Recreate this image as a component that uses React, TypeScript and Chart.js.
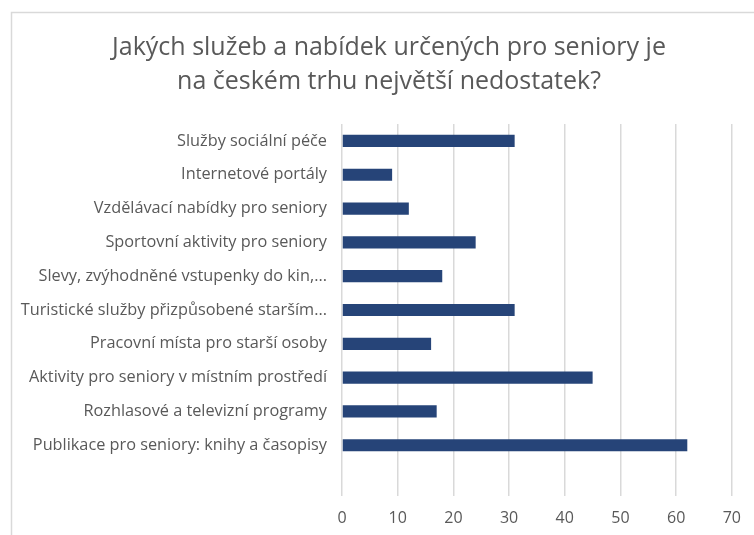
import { useEffect, useRef } from "react";
import { Chart, registerables } from "chart.js";

Chart.register(...registerables);

const titleLines = [
  "Jakých služeb a nabídek určených pro seniory je",
  "na českém trhu největší nedostatek?",
];

const categories = [
  "Služby sociální péče",
  "Internetové portály",
  "Vzdělávací nabídky pro seniory",
  "Sportovní aktivity pro seniory",
  "Slevy, zvýhodněné vstupenky do kin,...",
  "Turistické služby přizpůsobené starším...",
  "Pracovní místa pro starší osoby",
  "Aktivity pro seniory v místním prostředí",
  "Rozhlasové a televizní programy",
  "Publikace pro seniory: knihy a časopisy",
  "",
];

const values: (number | null)[] = [31, 9, 12, 24, 18, 31, 16, 45, 17, 62, null];

const xMin = 0;
const xMax = 70;
const xStep = 10;

const FONT = "'Open Sans', Lato, sans-serif";
const TEXT = "#595959";
const GRID = "#d9d9d9";
const BAR = "#264478";

const framePlugin = {
  id: "frameAndTitle",
  beforeDraw(chart: any) {
    const ctx = chart.ctx;
    ctx.save();
    ctx.fillStyle = "#ffffff";
    ctx.fillRect(0, 0, chart.width, chart.height);
    ctx.strokeStyle = GRID;
    ctx.lineWidth = 1.5;
    ctx.beginPath();
    ctx.moveTo(11.5, chart.height + 2);
    ctx.lineTo(11.5, 12.5);
    ctx.lineTo(chart.width + 2, 12.5);
    ctx.stroke();
    ctx.restore();
  },
  afterDraw(chart: any) {
    const ctx = chart.ctx;
    ctx.save();
    ctx.fillStyle = TEXT;
    ctx.font = `25px ${FONT}`;
    ctx.textAlign = "center";
    ctx.textBaseline = "alphabetic";
    const cx = 389;
    ctx.fillText(titleLines[0], cx, 55);
    ctx.fillText(titleLines[1], cx, 88.5);
    ctx.restore();
  },
};

export default function App() {
  const ref = useRef<HTMLCanvasElement | null>(null);

  useEffect(() => {
    document.body.style.margin = "0";
    if (!ref.current) return;
    const chart = new Chart(ref.current, {
      type: "bar",
      data: {
        labels: categories,
        datasets: [
          {
            data: values,
            backgroundColor: BAR,
            borderWidth: 0,
            barPercentage: 0.36,
            categoryPercentage: 1,
          },
        ],
      },
      options: {
        indexAxis: "y",
        animation: false,
        responsive: false,
        layout: { padding: { left: 12, right: 20, top: 124, bottom: 0 } },
        plugins: {
          legend: { display: false },
          tooltip: { enabled: false },
          title: { display: false },
        },
        scales: {
          x: {
            min: xMin,
            max: xMax,
            ticks: {
              stepSize: xStep,
              color: TEXT,
              font: { family: FONT, size: 16 },
              padding: 13,
            },
            grid: { color: GRID, lineWidth: 1.5, drawTicks: false },
            border: { display: false },
            afterFit(scale: any) {
              scale.height = 39;
            },
          },
          y: {
            ticks: {
              color: TEXT,
              font: { family: FONT, size: 16.3 },
              padding: 15,
              autoSkip: false,
            },
            grid: { display: false, drawTicks: false },
            border: { display: false },
            afterFit(scale: any) {
              scale.width = 330;
            },
          },
        },
      },
      plugins: [framePlugin],
    });
    return () => chart.destroy();
  }, []);

  return (
    <canvas
      ref={ref}
      width={754}
      height={535}
      style={{ display: "block", width: 754, height: 535 }}
    />
  );
}
